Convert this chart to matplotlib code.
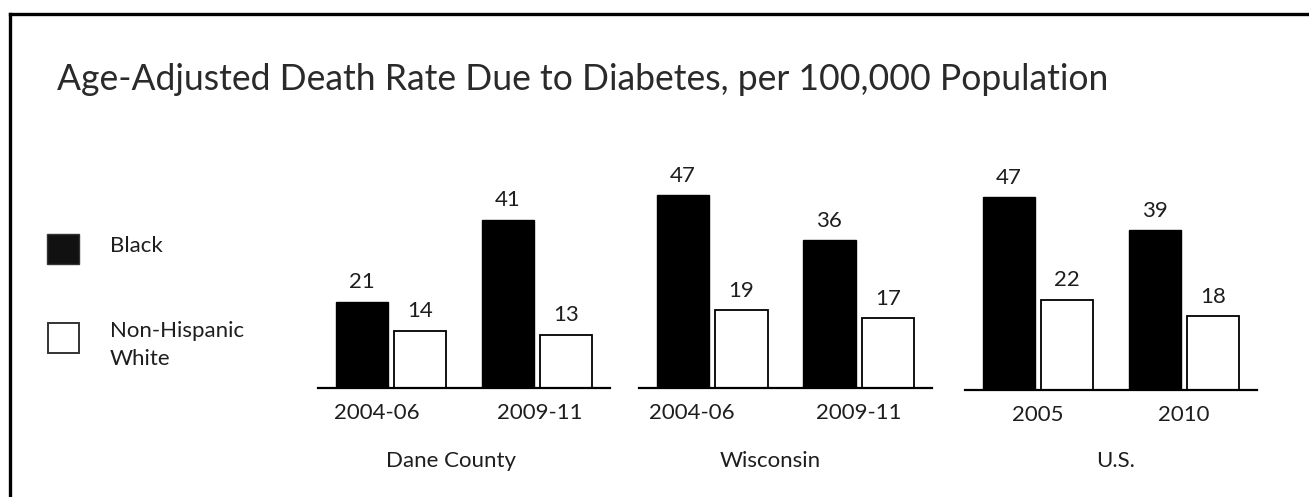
import matplotlib
matplotlib.use("Agg")
import matplotlib.pyplot as plt
from matplotlib.patches import Rectangle
from matplotlib.lines import Line2D
import numpy as np

plt.rcParams['font.family'] = ['Lato', 'DejaVu Sans']

title = "Age-Adjusted Death Rate Due to Diabetes, per 100,000 Population"
regions = ["Dane County", "Wisconsin", "U.S."]
periods = [["2004-06", "2009-11"], ["2004-06", "2009-11"], ["2005", "2010"]]
black = [[21, 41], [47, 36], [47, 39]]
white = [[14, 13], [19, 17], [22, 18]]
series_names = ["Black", "Non-Hispanic\nWhite"]

W, H = 1309, 497
fig = plt.figure(figsize=(W / 100, H / 100), dpi=100)
fig.patch.set_facecolor("white")

def fx(px):
    return px / W

def fy(py):
    return 1 - py / H

TXT = "#1e1e1e"
FS = 16

# frame (top and left)
fig.add_artist(Line2D([fx(9.5), 1.0], [fy(14), fy(14)], color="black", lw=2.4))
fig.add_artist(Line2D([fx(9.5), fx(9.5)], [fy(14), 0.0], color="black", lw=2.4))

fig.text(fx(57), fy(90), title, fontsize=25.6, color="#2a2a2a", ha="left", va="baseline")

# panels: left px, right px, baseline px
panels = [(318, 610, 388), (639, 932, 388), (965, 1257, 390)]
tick_shift = [[-14, 3], [-20, 0], [0, 0]]
group_x = [451, 770, 1116]
ymax = 50
px_per_unit = 4.1

for i, (l, r, b) in enumerate(panels):
    h = ymax * px_per_unit
    ax = fig.add_axes([fx(l), fy(b), fx(r - l), h / H])
    ax.set_xlim(-0.5, 1.5)
    ax.set_ylim(0, ymax)
    x = np.arange(len(periods[i]))
    bw = 0.36
    bb = ax.bar(x - 0.2, black[i], bw, color="black", edgecolor="black", lw=1.0, zorder=2)
    wb = ax.bar(x + 0.2, white[i], bw, color="white", edgecolor="black", lw=1.3, zorder=2)
    for rect, v in list(zip(bb, black[i])) + list(zip(wb, white[i])):
        ax.annotate(str(v), (rect.get_x() + rect.get_width() / 2, v),
                    xytext=(0, 14), textcoords="offset points",
                    ha="center", va="center", fontsize=FS, color=TXT)
    for s in ["top", "left", "right"]:
        ax.spines[s].set_visible(False)
    ax.spines["bottom"].set_linewidth(1.6)
    ax.set_yticks([])
    ax.set_xticks([])
    for j, lab in enumerate(periods[i]):
        ax.annotate(lab, (x[j], 0), xytext=(tick_shift[i][j] * 0.72, -18),
                    textcoords="offset points", ha="center", va="center",
                    fontsize=FS, color=TXT, annotation_clip=False)
    fig.text(fx(group_x[i]), fy(461), regions[i], ha="center", va="center",
             fontsize=FS, color=TXT)

# legend
fig.add_artist(Rectangle((fx(47), fy(264)), fx(32), 30 / H, facecolor="#111111",
                         edgecolor="#333333", lw=1.0, transform=fig.transFigure))
fig.add_artist(Rectangle((fx(47.5), fy(353)), fx(31), 30 / H, facecolor="white",
                         edgecolor="#333333", lw=1.4, transform=fig.transFigure))
fig.text(fx(110), fy(246), series_names[0], ha="left", va="center", fontsize=FS, color=TXT)
fig.text(fx(110), fy(345), series_names[1], ha="left", va="center", fontsize=FS,
         color=TXT, linespacing=1.55)

fig.savefig("out.png", dpi=100, facecolor="white")
